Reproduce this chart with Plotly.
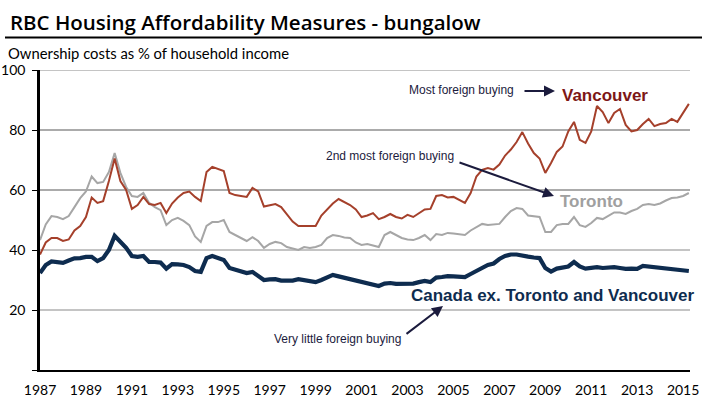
import plotly.graph_objects as go

# ---------------- data (quarterly, 1987Q1 - 2015Q2) ----------------
start_year = 1987
vancouver = [
    38.5, 42.5, 44.0, 44.0, 43.0, 43.5, 46.5, 48.0,   # 1987-1988
    51.0, 57.5, 55.7, 56.3, 63.0, 70.5, 63.0, 60.0,   # 1989-1990
    53.7, 55.0, 57.7, 55.3, 55.0, 55.7, 52.3, 55.5,   # 1991-1992
    57.5, 59.0, 59.5, 57.7, 56.3, 66.0, 67.7, 67.0,   # 1993-1994
    66.3, 59.0, 58.3, 58.0, 57.7, 60.7, 59.5, 54.5,   # 1995-1996
    55.0, 55.3, 54.3, 52.0, 49.5, 48.0, 48.0, 48.0,   # 1997-1998
    48.0, 51.5, 53.5, 55.5, 57.0, 56.0, 55.0, 53.5,   # 1999-2000
    51.0, 51.5, 52.3, 50.3, 51.0, 52.0, 51.0, 50.5,   # 2001-2002
    51.7, 51.0, 52.3, 53.5, 53.7, 58.0, 58.3, 57.5,   # 2003-2004
    57.7, 56.7, 55.7, 59.0, 64.5, 66.7, 67.3, 66.8,   # 2005-2006
    68.5, 71.5, 73.5, 76.0, 79.3, 75.5, 72.3, 70.5,   # 2007-2008
    65.7, 69.0, 72.7, 74.5, 79.5, 82.7, 76.7, 75.7,   # 2009-2010
    79.5, 88.0, 86.0, 82.3, 85.7, 87.0, 81.7, 79.5,   # 2011-2012
    80.0, 82.0, 83.7, 81.3, 82.0, 82.3, 83.7, 82.7,   # 2013-2014
    85.5, 88.7,                                       # 2015
]
toronto = [
    43.3, 48.5, 51.3, 51.0, 50.3, 51.3, 54.3, 57.3,
    59.5, 64.5, 62.3, 62.7, 66.0, 72.3, 65.7, 61.0,
    58.0, 57.7, 59.0, 55.7, 54.3, 53.3, 48.3, 50.0,
    50.7, 49.7, 48.3, 44.5, 42.7, 48.0, 49.3, 49.3,
    50.0, 46.0, 45.0, 44.0, 43.0, 44.3, 43.0, 40.7,
    42.0, 42.7, 42.3, 41.0, 40.5, 40.0, 41.0, 40.7,
    41.0, 41.7, 44.0, 45.0, 44.7, 44.2, 44.0, 42.5,
    41.7, 42.0, 41.5, 41.0, 45.0, 46.0, 45.0, 44.0,
    43.5, 43.3, 44.0, 45.0, 43.3, 45.3, 45.0, 45.7,
    45.5, 45.3, 45.0, 46.5, 47.5, 48.7, 48.3, 48.5,
    48.7, 51.0, 53.0, 54.0, 53.7, 51.5, 51.3, 51.0,
    46.0, 46.0, 48.3, 48.7, 48.7, 51.0, 48.3, 47.7,
    49.0, 50.7, 50.3, 51.5, 52.5, 52.5, 52.0, 53.0,
    53.7, 55.0, 55.3, 55.0, 55.5, 56.5, 57.3, 57.5,
    58.0, 59.0,
]
canada = [
    32.3, 35.0, 36.2, 36.0, 35.7, 36.5, 37.2, 37.3,
    37.7, 37.7, 36.3, 37.3, 40.0, 44.7, 42.7, 40.7,
    38.0, 37.7, 38.0, 36.0, 36.0, 35.8, 33.8, 35.3,
    35.2, 35.0, 34.3, 33.0, 32.7, 37.3, 38.0, 37.3,
    36.7, 34.0, 33.5, 33.0, 32.3, 32.7, 31.5, 30.0,
    30.2, 30.3, 29.8, 29.7, 29.8, 30.3, 30.0, 29.7,
    29.3, 30.0, 30.8, 31.7, 31.2, 30.7, 30.3, 29.7,
    29.3, 29.0, 28.5, 28.0, 28.8, 29.0, 28.7, 28.7,
    28.7, 28.8, 29.3, 29.7, 29.3, 30.8, 31.0, 31.3,
    31.2, 31.0, 31.0, 32.0, 33.0, 34.3, 35.0, 35.5,
    37.0, 38.0, 38.5, 38.5, 38.3, 37.8, 37.5, 37.3,
    34.0, 32.8, 33.8, 34.2, 34.5, 36.0, 34.5, 33.8,
    34.2, 34.3, 34.0, 34.2, 34.3, 34.0, 33.7, 33.8,
    33.7, 34.7, 34.5, 34.3, 34.0, 33.7, 33.5, 33.3,
    33.2, 33.0,
]
quarters = [start_year + i * 0.25 for i in range(len(vancouver))]
x_tick_years = list(range(1987, 2016, 2))
y_tick_values = [0, 20, 40, 60, 80, 100]
y_tick_labels = ["", "20", "40", "60", "80", "100"]

# ---------------- figure ----------------
W, H = 714, 414
L, R, T, B = 40, 24, 70, 44
PW, PH = W - L - R, H - T - B
X_MAX = 2015.3

def px(xp):
    return (xp - L) / PW

def py(yp):
    return (H - B - yp) / PH

def year_of(xp):
    return start_year + (xp - L) / PW * (X_MAX - start_year)

def val_of(yp):
    return (H - B - yp) / PH * 100

fig = go.Figure()
fig.add_trace(go.Scatter(x=quarters, y=toronto, mode="lines",
                         line=dict(color="#a6a6a6", width=2), name="Toronto"))
fig.add_trace(go.Scatter(x=quarters, y=vancouver, mode="lines",
                         line=dict(color="#a5402b", width=2), name="Vancouver"))
fig.add_trace(go.Scatter(x=quarters, y=canada, mode="lines",
                         line=dict(color="#0e2c4f", width=4.2), name="Canada"))

shapes = []
grid_colors = {20: "#c4c4c4", 40: "#c4c4c4", 60: "#8f8f8f", 80: "#8f8f8f", 100: "#c4c4c4"}
for v, c in grid_colors.items():
    shapes.append(dict(type="line", xref="paper", yref="y", x0=0, x1=1, y0=v, y1=v,
                       line=dict(color=c, width=2 if c == "#c4c4c4" else 1.3), layer="below"))
# rule under title
shapes.append(dict(type="line", xref="paper", yref="paper", x0=px(5), x1=px(702),
                   y0=py(37.5), y1=py(37.5), line=dict(color="black", width=2.2)))

ann_color = "#1b1b3d"
small_font = dict(family="Liberation Sans, Arial", size=12, color=ann_color)
big_font = "Liberation Sans, Arial"

annotations = [
    dict(text="RBC Housing Affordability Measures - bungalow", xref="paper", yref="paper",
         x=px(8), y=py(22), xanchor="left", yanchor="middle", showarrow=False,
         font=dict(family="Open Sans", size=20.5, color="black", weight=600)),
    dict(text="Ownership costs as % of household income", xref="paper", yref="paper",
         x=px(6), y=py(53), xanchor="left", yanchor="middle", showarrow=False,
         font=dict(family="Lato", size=14.8, color="black")),
    # labels
    dict(text="Most foreign buying", xref="paper", yref="paper", x=px(516), y=py(90),
         xanchor="right", yanchor="middle", showarrow=False, font=small_font),
    dict(text="2nd most foreign buying", xref="paper", yref="paper", x=px(456), y=py(156),
         xanchor="right", yanchor="middle", showarrow=False, font=small_font),
    dict(text="Very little foreign buying", xref="paper", yref="paper", x=px(272), y=py(339),
         xanchor="left", yanchor="middle", showarrow=False, font=small_font),
    dict(text="<b>Vancouver</b>", xref="paper", yref="paper", x=px(560), y=py(95),
         xanchor="left", yanchor="middle", showarrow=False,
         font=dict(family=big_font, size=17, color="#7d1716")),
    dict(text="<b>Toronto</b>", xref="paper", yref="paper", x=px(558), y=py(201),
         xanchor="left", yanchor="middle", showarrow=False,
         font=dict(family=big_font, size=17, color="#a0a0a0")),
    dict(text="<b>Canada ex. Toronto and Vancouver</b>", xref="paper", yref="paper",
         x=px(409), y=py(295), xanchor="left", yanchor="middle", showarrow=False,
         font=dict(family=big_font, size=17, color="#0e2c4f")),
    # arrows
    dict(text="", x=year_of(555), y=val_of(91), xref="x", yref="y",
         ax=-32, ay=0, axref="pixel", ayref="pixel", showarrow=True,
         arrowhead=2, arrowsize=1.1, arrowwidth=2, arrowcolor=ann_color),
    dict(text="", x=year_of(554), y=val_of(196), xref="x", yref="y",
         ax=-96, ay=-34, axref="pixel", ayref="pixel", showarrow=True,
         arrowhead=2, arrowsize=1.1, arrowwidth=2, arrowcolor=ann_color),
    dict(text="", x=year_of(443), y=val_of(306), xref="x", yref="y",
         ax=-38, ay=29, axref="pixel", ayref="pixel", showarrow=True,
         arrowhead=2, arrowsize=1.1, arrowwidth=2, arrowcolor=ann_color),
]

fig.update_layout(
    width=W, height=H,
    margin=dict(l=L, r=R, t=T, b=B, pad=0, autoexpand=False),
    paper_bgcolor="white", plot_bgcolor="white",
    showlegend=False,
    shapes=shapes,
    annotations=annotations,
    xaxis=dict(range=[start_year, X_MAX], tickvals=x_tick_years,
               ticktext=[str(y) for y in x_tick_years], automargin=False,
               showgrid=False, zeroline=False, showline=True, linecolor="black",
               linewidth=1.5, ticks="", ticklabelstandoff=6,
               tickfont=dict(family="Lato", size=14, color="black")),
    yaxis=dict(range=[0, 100], tickvals=y_tick_values, ticktext=y_tick_labels,
               automargin=False,
               showgrid=False, zeroline=False, showline=True, linecolor="black",
               linewidth=2.5, ticks="outside", ticklen=5, tickcolor="black",
               tickwidth=1, ticklabelstandoff=4,
               tickfont=dict(family="Lato", size=14, color="black")),
)

fig.write_html("out.html")
